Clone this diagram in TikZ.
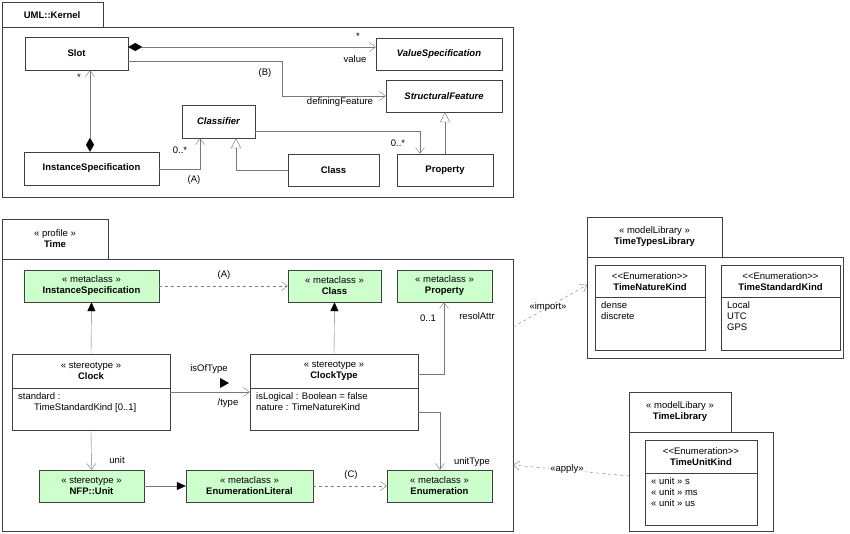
\documentclass[tikz,border=0pt]{standalone}
\usepackage{fontspec}
\setmainfont{Liberation Sans}
\usetikzlibrary{positioning, arrows.meta, calc}
\definecolor{mgreen}{RGB}{204,255,204}
\definecolor{lgray}{RGB}{120,120,120}
\tikzset{
  box/.style={draw=black!75, fill=white, inner sep=1pt, align=center, font=\bfseries},
  meta/.style={box, fill=mgreen, font=\normalfont},
  lbl/.style={inner sep=1pt, font=\normalfont},
  edge/.style={draw=lgray, thin},
  Open/.style={edge, -{Straight Barb[length=6pt,width=9pt]}},
  Gen/.style={edge, -{Triangle[open,length=10pt,width=10pt,fill=white]}},
  Ext/.style={edge, -{Triangle[length=9pt,width=8pt,black]}},
  Comp/.style={edge, {Diamond[length=14pt,width=8pt,black]}-{Straight Barb[length=6pt,width=9pt]}},
  pkg/.style={draw=black!75, fill=white},
}
\begin{document}
\fontsize{9.5}{11}\selectfont
\begin{tikzpicture}[x=1pt, y=-1pt]
    \useasboundingbox (0,0) rectangle (850,534);
    % UML::Kernel package
    \draw[pkg] (2,2) rectangle (103,27);
    \draw[pkg] (2,27) rectangle (513,197);
    \node[lbl, font=\bfseries] (kernel) at (52,15) {UML::Kernel};

    \node[box, minimum width=103pt, minimum height=33pt] (slot) at (76.5,53.5) {Slot};
    \node[box, minimum width=126pt, minimum height=32pt] (vs) at (439,54) {\itshape ValueSpecification};
    \node[box, minimum width=116pt, minimum height=32pt] (sf) at (444,96) {\itshape StructuralFeature};
    \node[box, minimum width=73pt, minimum height=33pt] (cl) at (218.5,121.5) {\itshape Classifier};
    \node[box, minimum width=135pt, minimum height=33pt] (is) at (91.5,168.5) {InstanceSpecification};
    \node[box, minimum width=91pt, minimum height=32pt] (class) at (333.5,170) {Class};
    \node[box, minimum width=96pt, minimum height=32pt] (prop) at (445,170) {Property};

    \draw[Comp] (slot.east |- 0,47) -- (vs.west |- 0,47);
    \node[lbl] at (358,36) {*};
    \node[lbl] at (355,59) {value};
    \draw[Open] (slot.east |- 0,61) -| (282,96) -- (sf.west |- 0,96);
    \node[lbl] at (265,73) {(B)};
    \node[lbl] at (340,102) {definingFeature};
    \draw[Comp] (is.north -| 90,0) -- (slot.south -| 90,0);
    \node[lbl] at (79,77) {*};
    \draw[Open] (is.east |- 0,169) -| (cl.south -| 200,0);
    \node[lbl] at (180,150) {0..*};
    \node[lbl] at (194,180) {(A)};
    \draw[Gen] (class.west) -| (cl.south -| 236,0);
    \draw[Open] (cl.east |- 0,131) -| (prop.north -| 420,0);
    \node[lbl] at (398,143) {0..*};
    \draw[Gen] (prop.north) -- (sf.south -| prop.north);

    % Time profile
    \draw[pkg] (2,219) rectangle (108,259);
    \draw[pkg] (2,259) rectangle (513,531);
    \node[lbl, align=center] (time) at (55,239) {« profile »\\\textbf{Time}};

    \node[meta, minimum width=135pt, minimum height=32pt] (mis) at (91.5,286) {« metaclass »\\\textbf{InstanceSpecification}};
    \node[meta, minimum width=93pt, minimum height=32pt] (mclass) at (334.5,286) {« metaclass »\\\textbf{Class}};
    \node[meta, minimum width=95pt, minimum height=32pt] (mprop) at (444.5,286) {« metaclass »\\\textbf{Property}};

    \node[box, minimum width=158pt, minimum height=76pt] (clock) at (91,392) {};
    \node[lbl, align=center] at (91,371) {« stereotype »\\\textbf{Clock}};
    \draw[draw=black!75] (12,388) -- (170,388);
    \node[lbl, align=left, anchor=north west] at (17,391) {standard :\\\hspace*{16pt}TimeStandardKind [0..1]};
    \node[box, minimum width=168pt, minimum height=76pt] (ct) at (334,392) {};
    \node[lbl, align=center] at (334,371) {« stereotype »\\\textbf{ClockType}};
    \draw[draw=black!75] (250,388) -- (418,388);
    \node[lbl, align=left, anchor=north west] at (255,391) {isLogical : Boolean = false\\nature : TimeNatureKind};

    \node[meta, minimum width=105pt, minimum height=32pt] (unit) at (91.5,486) {« stereotype »\\\textbf{NFP::Unit}};
    \node[meta, minimum width=127pt, minimum height=32pt] (lit) at (249.5,486) {« metaclass »\\\textbf{EnumerationLiteral}};
    \node[meta, minimum width=105pt, minimum height=32pt] (enum) at (439.5,486) {« metaclass »\\\textbf{Enumeration}};

    \draw[Open, dashed] (mis.east) -- (mclass.west);
    \node[lbl] at (224,275) {(A)};
    \draw[Ext] (clock.north) -- (mis.south);
    \draw[Ext] (ct.north) -- (mclass.south);
    \draw[Open] (ct.east |- 0,374) -| (mprop.south -| 444,0);
    \node[lbl] at (428,318) {0..1};
    \node[lbl] at (477,316) {resolAttr};
    \draw[Open] (clock.east |- 0,392) -- (ct.west |- 0,392);
    \node[lbl] at (209,369) {isOfType};
    \fill (220,378) -- (229,383) -- (220,388) -- cycle;
    \node[lbl] at (228,403) {/type};
    \draw[Open] (ct.east |- 0,412) -| (enum.north -| 440,0);
    \node[lbl] at (472,462) {unitType};
    \draw[Open] (clock.south) -- (unit.north);
    \node[lbl] at (117,460) {unit};
    \draw[Ext] (unit.east) -- (lit.west);
    \draw[Open, dashed] (lit.east) -- (enum.west);
    \node[lbl] at (351,475) {(C)};

    % TimeTypesLibrary
    \draw[pkg] (587,217) rectangle (722,257);
    \draw[pkg] (587,257) rectangle (843,358);
    \node[lbl, align=center] (ttl) at (654.5,237) {« modelLibrary »\\\textbf{TimeTypesLibrary}};
    \node[box, minimum width=110pt, minimum height=85pt] (tnk) at (650,307.5) {};
    \node[lbl, align=center] at (650,282) {<{}<Enumeration>{}>\\\textbf{TimeNatureKind}};
    \draw[draw=black!75] (595,297) -- (705,297);
    \node[lbl, align=left, anchor=north west] at (600,300) {dense\\discrete};
    \node[box, minimum width=119pt, minimum height=85pt] (tsk) at (780.5,307.5) {};
    \node[lbl, align=center] at (780.5,282) {<{}<Enumeration>{}>\\\textbf{TimeStandardKind}};
    \draw[draw=black!75] (721,297) -- (840,297);
    \node[lbl, align=left, anchor=north west] at (726,300) {Local\\UTC\\GPS};

    % TimeLibrary
    \draw[pkg] (629,392) rectangle (731,432);
    \draw[pkg] (629,432) rectangle (773,531);
    \node[lbl, align=center] (tl) at (680,412) {« modelLibary »\\\textbf{TimeLibrary}};
    \node[box, minimum width=112pt, minimum height=85pt] (tuk) at (701,482.5) {};
    \node[lbl, align=center] at (701,457) {<{}<Enumeration>{}>\\\textbf{TimeUnitKind}};
    \draw[draw=black!75] (645,473) -- (757,473);
    \node[lbl, align=left, anchor=north west] at (650,476) {« unit » s\\« unit » ms\\« unit » us};

    \coordinate (timeE) at (513,327);
    \coordinate (ttlW) at (587,285);
    \coordinate (tlW) at (629,476);
    \coordinate (timeA) at (513,465);
    \draw[Open, dashed] (timeE) -- (ttlW);
    \node[lbl] at (548,307) {«import»};
    \draw[Open, dashed] (tlW) -- (timeA);
    \node[lbl, fill=white] at (567,469) {«apply»};
\end{tikzpicture}
\end{document}
